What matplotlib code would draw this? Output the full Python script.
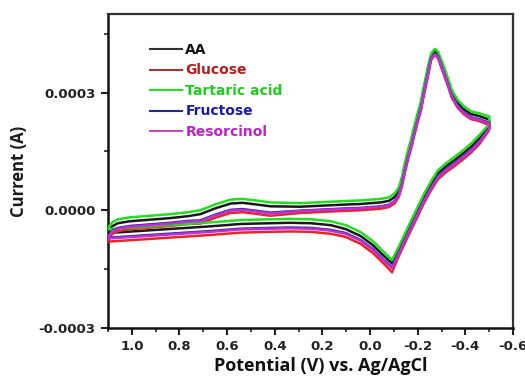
import matplotlib
matplotlib.use("Agg")
import matplotlib.pyplot as plt
from matplotlib.ticker import MultipleLocator, FormatStrFormatter
from matplotlib.lines import Line2D

# Potential (V): lower branch 1.1 -> -0.5, then upper branch -0.5 -> 1.1
potential = [1.100, 1.049, 0.923, 0.797, 0.671, 0.544, 0.418, 0.334, 0.249, 0.165,
             0.102, 0.039, -0.012, -0.054, -0.092, -0.121, -0.159, -0.193, -0.226, -0.256,
             -0.285, -0.319, -0.353, -0.391, -0.424, -0.458, -0.500,
             -0.500, -0.458, -0.424, -0.395, -0.369, -0.344, -0.326, -0.305, -0.285, -0.271,
             -0.256, -0.243, -0.226, -0.214, -0.197, -0.184, -0.172, -0.159, -0.146, -0.134,
             -0.121, -0.104, -0.079, -0.045, 0.039, 0.123, 0.292, 0.418, 0.481, 0.536,
             0.586, 0.649, 0.713, 0.763, 0.839, 0.923, 1.007, 1.058, 1.083, 1.098]

# Currents in units of 1e-5 A
i_tartaric = [-4.8, -4.6, -4.1, -3.6, -3.1, -2.5, -2.3, -2.2, -2.3, -2.8,
              -3.8, -5.6, -7.9, -10.4, -12.7, -9.2, -4.3, 0.0, 4.1, 7.4,
              10.2, 12.0, 13.5, 15.3, 17.0, 19.1, 21.9,
              23.9, 24.7, 25.2, 26.4, 28.0, 30.5, 33.8, 37.4, 40.4, 41.1,
              39.9, 36.6, 31.8, 28.0, 24.2, 21.1, 18.1, 15.3, 12.0, 8.6,
              5.9, 4.3, 3.3, 2.9, 2.5, 2.3, 1.8, 2.0, 2.5, 2.9,
              2.7, 1.5, 0.0, -0.5, -1.0, -1.4, -1.8, -2.3, -3.1, -4.3]
i_aa = [-5.8, -5.6, -5.1, -4.6, -4.1, -3.5, -3.3, -3.2, -3.3, -3.8,
        -4.8, -6.6, -8.9, -11.4, -13.5, -10.0, -5.1, -0.8, 3.3, 6.6,
        9.4, 11.2, 12.7, 14.5, 16.2, 18.3, 21.4,
        23.1, 24.0, 24.5, 25.7, 27.3, 29.8, 33.1, 36.7, 39.9, 40.6,
        39.4, 35.8, 31.0, 27.2, 23.4, 20.3, 17.3, 14.5, 11.2, 7.8,
        5.1, 3.4, 2.4, 2.0, 1.6, 1.4, 0.9, 1.0, 1.5, 1.9,
        1.7, 0.5, -1.0, -1.5, -2.0, -2.4, -2.8, -3.3, -4.1, -5.3]
i_fructose = [-7.0, -6.8, -6.3, -5.8, -5.3, -4.7, -4.5, -4.4, -4.5, -5.0,
              -5.8, -7.6, -9.9, -12.4, -14.5, -10.8, -5.9, -1.6, 2.5, 5.8,
              8.6, 10.4, 11.9, 13.7, 15.4, 17.5, 20.9,
              22.3, 23.2, 23.7, 24.9, 26.5, 29.0, 32.3, 35.9, 39.2, 39.9,
              38.7, 34.8, 30.0, 26.2, 22.4, 19.3, 16.3, 13.5, 10.2, 6.8,
              4.1, 2.4, 1.4, 1.0, 0.6, 0.4, -0.1, -0.6, -0.1, 0.3,
              0.1, -1.1, -2.6, -2.7, -3.2, -3.6, -4.0, -4.5, -5.3, -6.5]
i_resorcinol = [-7.2, -7.0, -6.5, -6.0, -5.5, -4.9, -4.7, -4.6, -4.7, -5.2,
                -6.0, -7.8, -10.1, -12.6, -14.8, -11.0, -6.1, -1.8, 2.3, 5.6,
                8.4, 10.2, 11.7, 13.5, 15.2, 17.3, 20.7,
                22.1, 23.0, 23.5, 24.7, 26.3, 28.8, 32.1, 35.7, 39.0, 39.7,
                38.5, 34.6, 29.8, 26.0, 22.2, 19.1, 16.1, 13.3, 10.0, 6.6,
                3.9, 2.3, 1.3, 0.9, 0.5, 0.3, -0.2, -0.8, -0.3, 0.1,
                -0.1, -1.3, -2.8, -2.9, -3.4, -3.8, -4.2, -4.7, -5.5, -6.7]
i_glucose = [-8.0, -7.8, -7.3, -6.8, -6.3, -5.7, -5.5, -5.4, -5.5, -6.0,
             -6.8, -8.6, -10.9, -13.4, -15.8, -11.6, -6.7, -2.4, 1.8, 5.1,
             7.9, 9.7, 11.2, 13.0, 14.7, 16.8, 20.4,
             21.7, 22.7, 23.2, 24.4, 26.0, 28.5, 31.8, 35.4, 38.8, 39.5,
             38.3, 34.2, 29.4, 25.6, 21.8, 18.7, 15.7, 12.9, 9.6, 6.2,
             3.5, 1.8, 0.8, 0.4, 0.0, -0.2, -0.7, -1.4, -0.9, -0.5,
             -0.7, -1.9, -3.4, -3.5, -4.0, -4.4, -4.8, -5.3, -6.1, -7.3]

labels = ["AA", "Glucose", "Tartaric acid", "Fructose", "Resorcinol"]
line_colors = ["#1a1a1a", "#e8262a", "#22dd22", "#2a2aa8", "#c030d0"]
legend_line_colors = ["#333333", "#a83232", "#22dd22", "#2a2a80", "#c848c8"]
text_colors = ["#111111", "#b81c1c", "#22cc22", "#1a1aa8", "#c020c8"]
series = [i_aa, i_glucose, i_tartaric, i_fructose, i_resorcinol]

y_ticks = [-0.0003, 0.0000, 0.0003]
x_ticks = [1.0, 0.8, 0.6, 0.4, 0.2, 0.0, -0.2, -0.4, -0.6]

fig = plt.figure(figsize=(5.25, 3.82), dpi=100)
ax = fig.add_axes([108/525, 54/382, 405/525, 314/382])

draw_order = [2, 0, 1, 3, 4]
for k in draw_order:
    xs = potential + [potential[0]]
    ys = [v * 1e-5 for v in series[k]] + [series[k][0] * 1e-5]
    ax.plot(xs, ys, color=line_colors[k], lw=1.8, solid_joinstyle="round", zorder=2 + k)

ax.set_xlim(1.1, -0.6)
ax.set_ylim(-0.0003, 0.0005)

ax.set_xticks(x_ticks)
ax.xaxis.set_minor_locator(MultipleLocator(0.1))
ax.xaxis.set_major_formatter(FormatStrFormatter("%.1f"))
ax.set_yticks(y_ticks)
ax.yaxis.set_minor_locator(MultipleLocator(0.00015))
ax.yaxis.set_major_formatter(FormatStrFormatter("%.4f"))

for lab in ax.get_xticklabels() + ax.get_yticklabels():
    lab.set_fontfamily("DejaVu Sans")
    lab.set_fontweight("bold")
    lab.set_fontsize(9.5)
    lab.set_color("#222222")

ax.tick_params(which="major", direction="out", length=5, width=1.5, pad=4, colors="#222222")
ax.tick_params(which="minor", direction="out", length=3, width=1.2, colors="#222222")
ax.tick_params(top=False, right=False, which="both")

for s in ["left", "bottom"]:
    ax.spines[s].set_linewidth(1.8)
    ax.spines[s].set_color("#111111")
for s in ["top", "right"]:
    ax.spines[s].set_linewidth(1.6)
    ax.spines[s].set_color("#333333")

ax.set_xlabel("Potential (V) vs. Ag/AgCl", fontfamily="Open Sans", fontweight="bold",
              fontsize=13, color="#111111")
ax.xaxis.set_label_coords(0.526, -0.092)
ax.set_ylabel("Current (A)", fontfamily="Open Sans", fontweight="bold",
              fontsize=12, color="#1a1a1a")
ax.yaxis.set_label_coords(-0.198, 0.5)

handles = [Line2D([0], [0], color=legend_line_colors[k], lw=1.5) for k in range(5)]
leg = ax.legend(handles, labels, loc="upper left", bbox_to_anchor=(0.1037, 0.908),
                frameon=False, handlelength=2.3, handletextpad=0.25, labelspacing=0.47,
                borderaxespad=0, borderpad=0,
                prop={"family": "DejaVu Sans", "weight": "bold", "size": 10})
for t, c in zip(leg.get_texts(), text_colors):
    t.set_color(c)

fig.savefig("out.png", dpi=100)
